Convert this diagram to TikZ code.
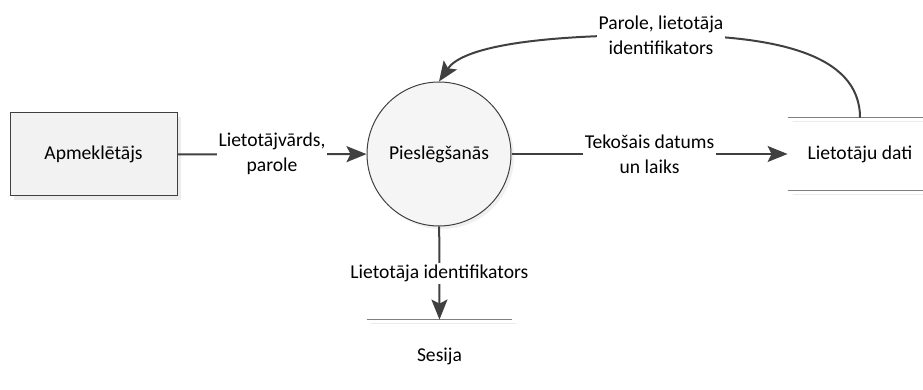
\documentclass[tikz,border=0pt]{standalone}
\usepackage{fontspec}
\setmainfont{Carlito}
\usetikzlibrary{arrows.meta, positioning, shadows}

\definecolor{linegray}{HTML}{404040}
\definecolor{storegray}{HTML}{7F7F7F}
\definecolor{boxfill}{HTML}{F2F2F2}

\begin{document}
\begin{tikzpicture}[x=0.5pt, y=-0.5pt,
    every node/.style={font=\fontsize{9.8}{12.5}\selectfont},
    entity/.style={draw=linegray, line width=0.5pt, fill=boxfill,
        minimum width=83.5pt, minimum height=41.5pt,
        drop shadow={shadow xshift=2pt, shadow yshift=-2pt, opacity=0.15}},
    process/.style={circle, draw=linegray, line width=0.5pt, fill=black!4,
        minimum size=72pt,
        drop shadow={shadow xshift=1.5pt, shadow yshift=-1.5pt, opacity=0.12}},
    store/.style={minimum width=72pt, minimum height=36pt, inner sep=0pt},
    storeline/.style={storegray, line width=0.75pt},
    storeshadow/.style={black!8, line width=0.75pt},
    flow/.style={linegray, line width=1pt,
        -{Stealth[length=10pt, width=8pt, inset=2pt]}},
    flowlabel/.style={fill=white, text=black, align=center, inner sep=1pt}]
\useasboundingbox (0,0) rectangle (923,390);

% external entity, process and stores
\node[entity] (apm) at (93.5,154.5) {Apmeklētājs};
\node[process] (pr) at (439,154) {Pieslēgšanās};
\node[store] (dati) at (860,154) {Lietotāju dati};
\node[store] (sesija) at (439.5,356) {Sesija};

% store lines
\draw[storeshadow] ([shift={(5,4)}]dati.north west) -- ([shift={(5,4)}]dati.north east);
\draw[storeshadow] ([shift={(5,4)}]dati.south west) -- ([shift={(5,4)}]dati.south east);
\draw[storeline] (dati.north west) -- (dati.north east);
\draw[storeline] (dati.south west) -- (dati.south east);
\draw[storeshadow] ([shift={(4,4)}]sesija.north west) -- ([shift={(4,4)}]sesija.north east);
\draw[storeline] (sesija.north west) -- (sesija.north east);

% data flows
\draw[flow] (apm) -- node[flowlabel] {Lietotājvārds,\\parole} (pr);
\draw[flow] (pr) -- node[flowlabel] {Tekošais datums\\un laiks} (dati);
\draw[flow] (pr) -- node[flowlabel] {Lietotāja identifikators} (sesija.north);

\coordinate (ptop) at (661,35);
\draw[flow] (dati.north) .. controls (860,52) and (770,35) .. (ptop)
    .. controls (530,35) and (462,48) .. (pr.north);
\node[flowlabel] at (ptop) {Parole, lietotāja\\identifikators};
\end{tikzpicture}
\end{document}
